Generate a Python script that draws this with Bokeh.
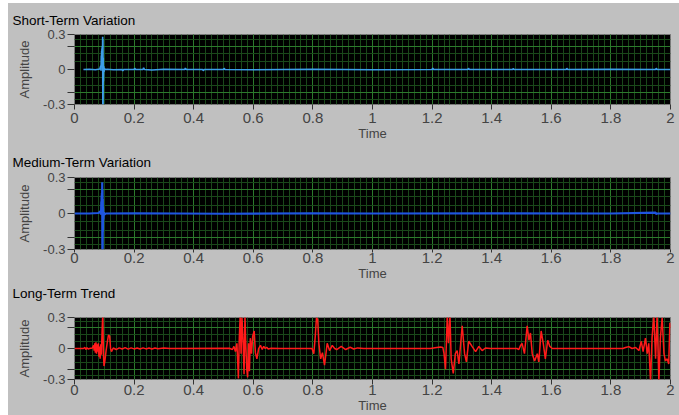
from bokeh.plotting import figure
from bokeh.layouts import column
from bokeh.models import Range1d, FixedTicker, SingleIntervalTicker, Title
from bokeh.embed import file_html
from bokeh.resources import INLINE

# ---------------- data ----------------
titles = ["Short-Term Variation", "Medium-Term Variation", "Long-Term Trend"]
x_ticks = [0, 0.2, 0.4, 0.6, 0.8, 1.0, 1.2, 1.4, 1.6, 1.8, 2.0]
x_tick_labels = ["0", "0.2", "0.4", "0.6", "0.8", "1", "1.2", "1.4", "1.6", "1.8", "2"]
y_ticks = [-0.3, 0, 0.3]
y_tick_labels = ["-0.3", "0", "0.3"]

short_t = [0.03, 0.05, 0.07, 0.085, 0.088, 0.089, 0.09, 0.0905, 0.091, 0.0915, 0.092, 0.0925,
           0.093, 0.0935, 0.094, 0.0945, 0.095, 0.0955, 0.096, 0.0965, 0.097, 0.098, 0.099,
           0.1, 0.103, 0.11, 0.13, 0.16, 0.162, 0.165, 0.2, 0.202, 0.205, 0.23, 0.232, 0.235,
           0.26, 0.3, 0.37, 0.372, 0.375, 0.43, 0.432, 0.435, 0.5, 0.502, 0.505, 0.6, 0.8,
           1.0, 1.2, 1.202, 1.205, 1.32, 1.322, 1.325, 1.47, 1.472, 1.475, 1.65, 1.652,
           1.655, 1.8, 1.95, 1.952, 1.955, 2.0]
short_v = [0.0, 0.002, -0.002, 0.005, 0.03, -0.01, 0.12, 0.02, 0.16, 0.04, 0.18, 0.06,
           0.2, 0.05, 0.15, 0.28, -0.3, 0.26, -0.3, 0.1, -0.1, 0.03, -0.02,
           0.01, 0.0, 0.002, -0.002, 0.0, -0.012, 0.0, 0.0, 0.01, 0.0, 0.0, 0.015, 0.0,
           -0.004, 0.002, 0.0, 0.012, 0.0, 0.0, -0.01, 0.0, 0.0, 0.01, 0.0, -0.002, 0.002,
           -0.002, 0.0, 0.012, 0.0, 0.0, 0.01, 0.0, 0.0, 0.008, 0.0, 0.0, 0.01,
           0.0, 0.002, 0.0, 0.01, 0.0, 0.0]

medium_t = [0.0, 0.05, 0.08, 0.088, 0.089, 0.09, 0.0905, 0.091, 0.0915, 0.092, 0.0925,
            0.093, 0.0935, 0.094, 0.0945, 0.095, 0.0955, 0.096, 0.097, 0.098, 0.1, 0.105,
            0.2, 0.5, 0.8, 1.0, 1.4, 1.8, 1.95, 1.952, 1.955, 2.0]
medium_v = [0.0, 0.0, 0.004, 0.02, -0.01, 0.1, 0.02, 0.15, 0.05, 0.17, 0.04,
            0.26, -0.3, 0.2, -0.3, 0.12, -0.15, 0.05, -0.05, 0.01, -0.01, 0.0,
            0.002, -0.002, 0.002, 0.0, 0.002, 0.0, 0.008, -0.006, 0.0, 0.0]

long_t = [0.0, 0.03, 0.035, 0.038, 0.042, 0.046, 0.05, 0.06, 0.064, 0.066, 0.068, 0.07,
          0.072, 0.074, 0.076, 0.078, 0.08, 0.082, 0.084, 0.086, 0.088, 0.09, 0.093,
          0.095, 0.097, 0.099, 0.102, 0.106, 0.11, 0.114, 0.118, 0.121, 0.124, 0.13, 0.14,
          0.15, 0.16, 0.17, 0.18, 0.19, 0.2, 0.21, 0.22, 0.23, 0.24, 0.25, 0.26, 0.27,
          0.28, 0.3, 0.32,
          0.52, 0.53, 0.535, 0.54, 0.545, 0.55, 0.553, 0.556, 0.559, 0.562, 0.566, 0.569,
          0.572, 0.575, 0.578, 0.581, 0.584, 0.587, 0.59, 0.594, 0.598, 0.603, 0.607,
          0.612, 0.618, 0.624, 0.63, 0.635, 0.64, 0.645, 0.65, 0.66, 0.69,
          0.797, 0.803, 0.808, 0.812, 0.816, 0.82, 0.826, 0.832, 0.839, 0.848, 0.856,
          0.865, 0.873, 0.88, 0.895, 0.91, 0.925, 0.937, 0.95, 0.97,
          1.195, 1.21, 1.228, 1.236, 1.24, 1.245, 1.251, 1.255, 1.26, 1.264, 1.271, 1.278,
          1.284, 1.29, 1.301, 1.309, 1.315, 1.323, 1.334, 1.346, 1.357, 1.368, 1.379,
          1.396,
          1.485, 1.491, 1.497, 1.502, 1.51, 1.519, 1.525, 1.53, 1.536, 1.544, 1.553, 1.558,
          1.566, 1.573, 1.58, 1.588, 1.595, 1.603,
          1.84, 1.849, 1.86, 1.871, 1.883, 1.894, 1.902, 1.908, 1.916, 1.922, 1.927,
          1.933, 1.938, 1.944, 1.95, 1.955, 1.961, 1.966, 1.972, 1.978, 1.983, 1.989,
          1.994, 1.998, 2.0]
long_v = [0.0, 0.0, 0.01, -0.01, 0.008, -0.005, 0.0, 0.005, 0.03, -0.02, 0.05, -0.04,
          0.06, -0.05, 0.04, -0.03, 0.05, -0.08, 0.02, -0.1, 0.04, -0.06, 0.2,
          0.34, -0.05, -0.17, -0.12, -0.02, 0.06, 0.13, 0.12, 0.0, -0.03, 0.005, -0.01,
          0.006, -0.005, 0.008, -0.006, 0.006, -0.004, 0.005, -0.005, 0.006, -0.004, 0.005,
          -0.005, 0.004, -0.003, 0.004, 0.0,
          0.002, -0.01, 0.02, -0.03, 0.05, -0.29, 0.1, 0.32, -0.05, 0.3, 0.05, -0.25,
          0.32, 0.02, -0.2, -0.28, 0.05, -0.22, 0.1, -0.05, 0.12, 0.17, -0.04,
          -0.1, 0.0, 0.03, -0.01, 0.02, 0.0, 0.012, -0.005, 0.003, 0.0,
          0.0, -0.05, 0.12, 0.3, 0.28, 0.05, -0.1, -0.04, -0.16, 0.05, -0.02,
          0.03, 0.0, -0.01, 0.02, -0.01, 0.012, -0.005, 0.006, 0.0,
          0.0, 0.008, 0.015, 0.01, -0.05, -0.2, 0.32, 0.05, 0.32, -0.1, -0.24, -0.05,
          -0.02, -0.15, 0.22, -0.05, -0.13, 0.07, 0.02, -0.03, 0.02, -0.02, 0.005,
          0.0,
          0.0, -0.01, 0.03, 0.05, -0.05, 0.22, 0.08, 0.15, -0.05, -0.12, -0.05, -0.13,
          0.17, 0.05, -0.1, 0.08, 0.02, 0.0,
          0.0, 0.01, 0.018, 0.0, 0.01, -0.02, 0.07, -0.03, 0.1, -0.05, 0.05,
          -0.32, 0.1, 0.32, -0.1, 0.32, -0.32, 0.1, 0.3, -0.05, -0.12, -0.1,
          -0.15, 0.25, 0.2]

series = [(short_t, short_v, "#3d9ee9", 1.6),
          (medium_t, medium_v, "#1f55e0", 2.2),
          (long_t, long_v, "#ff1a1a", 1.5)]

BG = "#c0c0c0"
FONT = "Liberation Sans"

# per panel: (frame_height, border_top, border_bottom, tick-label standoff, tick length)
panel_layout = [(70, 31, 39, 3, 5), (72, 34, 52, 0, 3), (62, 16, 36, 0, 5)]
# headings: panels 0 and 1 -> own "above" title, panel 2 -> "below" title of panel 1
heading_standoff = [13, 16, 0]


def heading(text, standoff):
    return Title(text=text, align="left", offset=-62, standoff=standoff,
                 text_font=FONT, text_font_size="13.5px", text_font_style="normal",
                 text_color="black")


def make_panel(i):
    t, v, color, lw = series[i]
    fh, bt, bb, ls, tk = panel_layout[i]
    p = figure(width=671, height=fh + bt + bb, x_range=Range1d(0, 2),
               y_range=Range1d(-0.3, 0.3), title_location=None,
               output_backend="svg", toolbar_location=None,
               min_border_left=66, min_border_right=9, min_border_top=bt,
               min_border_bottom=bb, background_fill_color="black",
               border_fill_color=BG, outline_line_color="#7a7a7a")

    # grids
    p.xgrid.ticker = SingleIntervalTicker(interval=0.2, num_minor_ticks=10)
    p.xgrid.grid_line_color = "#2c7a2c"
    p.xgrid.grid_line_width = 1
    p.xgrid.minor_grid_line_color = "#1a481a"
    p.ygrid.ticker = FixedTicker(ticks=[-0.2, 0.2],
                                 minor_ticks=[-0.26, -0.14, -0.07, 0.07, 0.14, 0.26])
    p.ygrid.grid_line_color = "#2c7a2c"
    p.ygrid.minor_grid_line_color = "#1a481a"

    # x axis
    xa = p.xaxis[0]
    xa.ticker = FixedTicker(ticks=x_ticks)
    xa.major_label_overrides = {k: s for k, s in zip(x_ticks, x_tick_labels)}
    xa.axis_label = "Time"
    xa.axis_label_text_font = FONT
    xa.axis_label_text_font_size = "13px"
    xa.axis_label_text_font_style = "normal"
    xa.axis_label_standoff = 0
    xa.major_label_text_font = FONT
    xa.major_label_text_font_size = "15px"
    xa.major_label_standoff = ls
    xa.major_tick_in = 0
    xa.major_tick_out = tk
    xa.minor_tick_out = 0
    xa.minor_tick_in = 0
    xa.axis_line_color = None
    xa.major_tick_line_color = "#333333"

    # y axis
    ya = p.yaxis[0]
    ya.ticker = FixedTicker(ticks=y_ticks, minor_ticks=[-0.2, 0.2])
    ya.major_label_overrides = {k: s for k, s in zip(y_ticks, y_tick_labels)}
    ya.axis_label = "Amplitude"
    ya.axis_label_text_font = FONT
    ya.axis_label_text_font_size = "13px"
    ya.axis_label_text_font_style = "normal"
    ya.axis_label_standoff = 8
    ya.major_label_text_font = FONT
    ya.major_label_text_font_size = "13px"
    ya.major_label_standoff = 2
    ya.major_tick_in = 0
    ya.major_tick_out = 7
    ya.minor_tick_in = 0
    ya.minor_tick_out = 7
    ya.axis_line_color = None
    ya.major_tick_line_color = "#333333"
    ya.minor_tick_line_color = "#333333"

    p.line(t, v, line_color=color, line_width=lw)
    return p


panels = [make_panel(i) for i in range(3)]
panels[0].add_layout(heading(titles[0], heading_standoff[0]), "above")
panels[1].add_layout(heading(titles[1], heading_standoff[1]), "above")
panels[1].add_layout(heading(titles[2], heading_standoff[2]), "below")

layout = column(*panels, spacing=0, margin=(3, 0, 0, 8),
                styles={"background-color": BG})
open("out.html", "w").write(file_html(layout, INLINE))
